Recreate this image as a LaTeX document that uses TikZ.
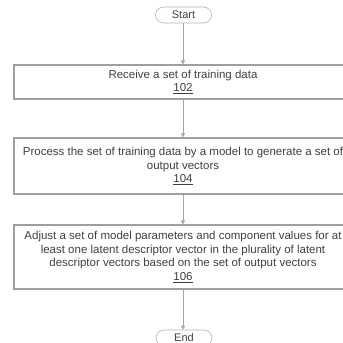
\documentclass[tikz,border=0pt]{standalone}
\usepackage{fontspec}
\setmainfont{Liberation Sans}
\usetikzlibrary{arrows.meta}
\begin{document}
\begin{tikzpicture}[x=1pt,y=-1pt,
  box/.style={draw=gray!75, line width=1.1pt, minimum width=338pt, align=center,
    font=\fontsize{11.5}{13.6}\selectfont, text=black!75, inner sep=0pt},
  term/.style={draw=gray!60, line width=0.6pt, rounded corners=8pt, minimum width=56pt,
    minimum height=16pt, font=\fontsize{11}{13}\selectfont, inner sep=0pt, text=black!75},
  flow/.style={draw=gray!70, line width=0.6pt, -{Triangle[width=4pt,length=4pt]}}]
\useasboundingbox (0,0) rectangle (343,343);
\node[term] (start) at (183.5,15) {Start};
\node[box, minimum height=34pt] (b1) at (183,82) {Receive a set of training data\\\underline{102}};
\node[box, minimum height=56pt] (b2) at (183,166) {Process the set of training data by a model to generate a set of\\output vectors\\\underline{104}};
\node[box, minimum height=64pt] (b3) at (183,257) {Adjust a set of model parameters and component values for at\\least one latent descriptor vector in the plurality of latent\\descriptor vectors based on the set of output vectors\\\underline{106}};
\node[term] (end) at (184,338) {End};
\draw[flow] (start.south -| b1.north) -- (b1);
\draw[flow] (b1) -- (b2);
\draw[flow] (b2) -- (b3);
\draw[flow] (b3.south) -- (end.north -| b3.south);
\end{tikzpicture}
\end{document}
